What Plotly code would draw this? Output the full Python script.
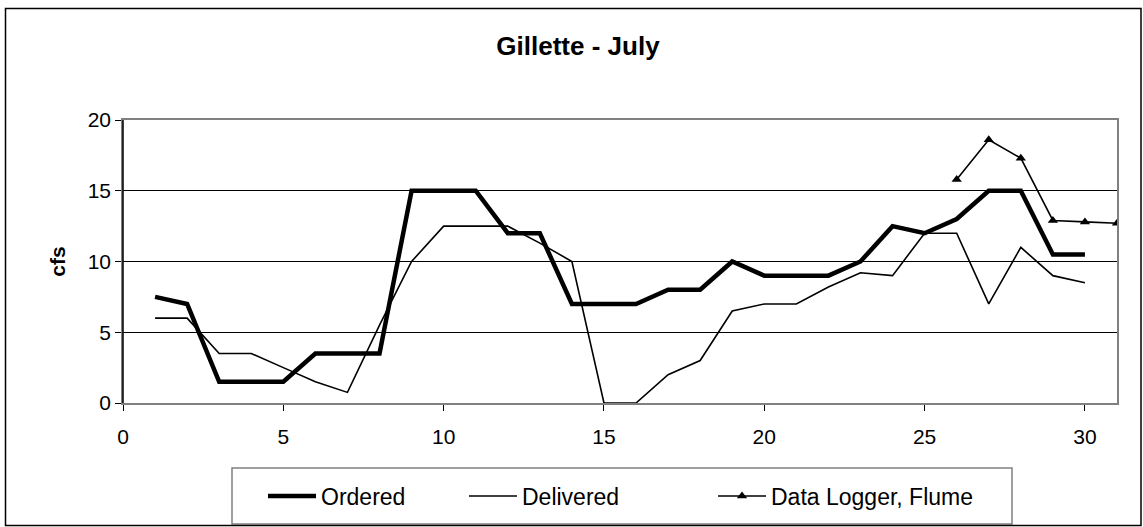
import plotly.graph_objects as go

# Daily flows for July (cfs)
days = list(range(1, 31))
ordered = [7.5, 7, 1.5, 1.5, 1.5, 3.5, 3.5, 3.5, 15, 15,
           15, 12, 12, 7, 7, 7, 8, 8, 10, 9,
           9, 9, 10, 12.5, 12, 13, 15, 15, 10.5, 10.5]
delivered = [6, 6, 3.5, 3.5, 2.5, 1.5, 0.75, 5.5, 10, 12.5,
             12.5, 12.5, 11.3, 10, 0, 0, 2, 3, 6.5, 7,
             7, 8.2, 9.2, 9, 12, 12, 7, 11, 9, 8.5]
logger_days = [26, 27, 28, 29, 30, 31]
logger_flow = [15.8, 18.6, 17.3, 12.9, 12.8, 12.7]

x_ticks = [0, 5, 10, 15, 20, 25, 30]
y_ticks = [0, 5, 10, 15, 20]

FONT = "Arial, 'Liberation Sans', sans-serif"

fig = go.Figure()
fig.add_trace(go.Scatter(x=days, y=ordered, name="Ordered", mode="lines",
                         legend="legend",
                         line=dict(color="black", width=4.5)))
fig.add_trace(go.Scatter(x=days, y=delivered, name="Delivered", mode="lines",
                         legend="legend2",
                         line=dict(color="black", width=1.6)))
fig.add_trace(go.Scatter(x=logger_days, y=logger_flow, name="Data Logger, Flume",
                         mode="lines+markers", legend="legend3",
                         line=dict(color="black", width=1.6),
                         marker=dict(symbol="triangle-up", size=9, color="black")))

W, H = 1143, 527
L, R, T, B = 123, 26, 120, 124
pw, ph = W - L - R, H - T - B


def px(xp):
    return (xp - L) / pw


def py(yp):
    return (H - B - yp) / ph


def legend_at(x_left):
    # one single-entry legend per series, placed along the bottom frame
    return dict(orientation="h", x=px(x_left), xanchor="left", y=py(496),
                yanchor="middle", itemwidth=48, bgcolor="rgba(0,0,0,0)",
                borderwidth=0, font=dict(family=FONT, size=23, color="black"))


fig.update_layout(
    width=W, height=H,
    margin=dict(l=L, r=R, t=T, b=B, autoexpand=False),
    paper_bgcolor="white", plot_bgcolor="white",
    font=dict(family=FONT, size=20, color="black"),
    showlegend=True,
    title=dict(text="<b>Gillette - July</b>", x=578 / W, xref="container",
               xanchor="center", y=1 - 46 / H, yref="container", yanchor="middle",
               font=dict(family=FONT, size=26, color="black")),
    legend=legend_at(263),
    legend2=legend_at(464),
    legend3=legend_at(713),
    xaxis=dict(range=[0, 31], tickvals=x_ticks, ticks="outside", ticklen=6,
               tickcolor="black", showgrid=False, zeroline=False,
               showline=True, linecolor="#808080", linewidth=1.5, mirror=True,
               ticklabelstandoff=8,
               tickfont=dict(family=FONT, size=21, color="black")),
    yaxis=dict(range=[0, 20], tickvals=y_ticks, ticks="outside", ticklen=6,
               tickcolor="black", showgrid=True, gridcolor="black", gridwidth=1,
               zeroline=False, showline=True, linecolor="#808080", linewidth=1.5,
               mirror=True,
               title=dict(text="<b>cfs</b>", standoff=16,
                          font=dict(family=FONT, size=21, color="black")),
               tickfont=dict(family=FONT, size=21, color="black")),
    shapes=[
        # legend frame
        dict(type="rect", xref="paper", yref="paper",
             x0=px(232), x1=px(1012), y0=py(524), y1=py(468),
             line=dict(color="#808080", width=1.5), fillcolor="rgba(0,0,0,0)",
             layer="below"),
        # chart border
        dict(type="rect", xref="paper", yref="paper",
             x0=px(5.5), x1=px(1141), y0=py(525.5), y1=py(8.5),
             line=dict(color="black", width=1.5), fillcolor="rgba(0,0,0,0)"),
        # left axis line
        dict(type="line", xref="paper", yref="paper", x0=0, x1=0, y0=0, y1=1,
             line=dict(color="black", width=1.5)),
    ],
)

fig.write_html("out.html")
